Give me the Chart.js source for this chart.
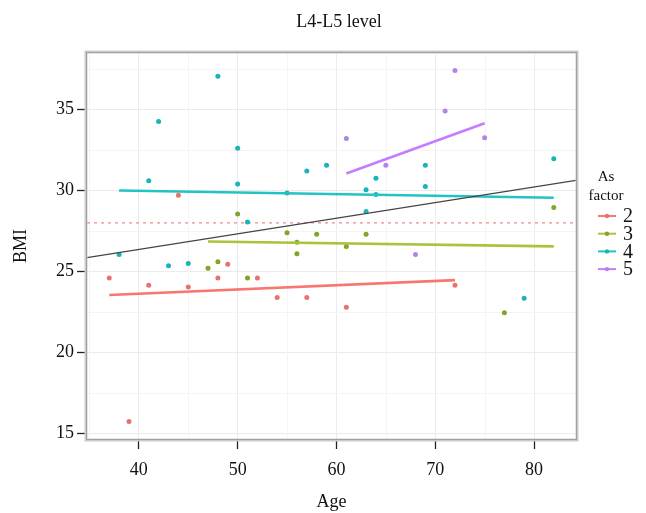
<!DOCTYPE html>
<html>
<head>
<meta charset="utf-8">
<script src="https://cdn.jsdelivr.net/npm/chart.js@4/dist/chart.umd.min.js"></script>
<style>
html,body{margin:0;padding:0;background:#fff;}
#wrap{width:646px;height:513px;}
</style>
</head>
<body>
<div id="wrap"><canvas id="c" width="646" height="513"></canvas></div>
<script>
// ---- data ----
const chartTitle = 'L4-L5 level';
const xTitle = 'Age';
const yTitle = 'BMI';
const legendTitle = ['As', 'factor'];
const groups = ['2', '3', '4', '5'];

const age2 = [37, 39, 41, 44, 45, 48, 49, 52, 54, 57, 61, 72];
const bmi2 = [24.6, 15.75, 24.15, 29.7, 24.05, 24.6, 25.45, 24.6, 23.4, 23.4, 22.8, 24.15];

const age3 = [47, 48, 50, 51, 55, 56, 56, 58, 61, 63, 77, 82];
const bmi3 = [25.2, 25.6, 28.55, 24.6, 27.4, 26.1, 26.8, 27.3, 26.55, 27.3, 22.45, 28.95];

const age4 = [38, 41, 42, 43, 45, 48, 50, 50, 51, 55, 57, 59, 63, 63, 64, 64, 69, 69, 79, 82];
const bmi4 = [26.05, 30.6, 34.25, 25.35, 25.5, 37.05, 32.6, 30.4, 28.05, 29.85, 31.2, 31.55, 30.05, 28.7, 30.75, 29.75, 31.55, 30.25, 23.35, 31.95];

const age5 = [61, 65, 68, 71, 72, 75];
const bmi5 = [33.2, 31.55, 26.05, 34.9, 37.4, 33.25];

// fitted lines per group (end points)
const fitAge2 = [37, 72], fitBmi2 = [23.55, 24.47];
const fitAge3 = [47, 82], fitBmi3 = [26.85, 26.55];
const fitAge4 = [38, 82], fitBmi4 = [30.0, 29.55];
const fitAge5 = [61, 75], fitBmi5 = [31.05, 34.15];
// overall line and reference level
const overallAge = [34.75, 84.25], overallBmi = [25.86, 30.62];
const refBmi = 28;

const xRange = [34.75, 84.25];
const yRange = [14.67, 38.48];
const xTicks = [40, 50, 60, 70, 80];
const yTicks = [15, 20, 25, 30, 35];

// ---- styling ----
const pointColors = ['#e8736b', '#7fa52a', '#19b4b6', '#b084e8'];
const lineColors  = ['#f8766d', '#a8c43a', '#22c3c6', '#c77cff'];
const FONT = "'Liberation Serif', 'Times New Roman', serif";

const zip = (xs, ys) => xs.map((x, i) => ({x: x, y: ys[i]}));
const ages = [age2, age3, age4, age5];
const bmis = [bmi2, bmi3, bmi4, bmi5];
const fitAges = [fitAge2, fitAge3, fitAge4, fitAge5];
const fitBmis = [fitBmi2, fitBmi3, fitBmi4, fitBmi5];

const datasets = [];
datasets.push({
  label: 'ref', data: xRange.map(x => ({x: x, y: refBmi})), showLine: true,
  borderColor: '#f08a8a', borderWidth: 1.3, borderDash: [3, 4], pointRadius: 0, order: 10
});
groups.forEach((g, i) => {
  datasets.push({
    label: g, data: zip(ages[i], bmis[i]), pointRadius: 2.5, pointBorderWidth: 0,
    backgroundColor: pointColors[i], borderColor: pointColors[i], order: 5
  });
});
groups.forEach((g, i) => {
  datasets.push({
    label: 'fit' + g, data: zip(fitAges[i], fitBmis[i]), showLine: true,
    borderColor: lineColors[i], borderWidth: 2.6, pointRadius: 0, order: 2
  });
});
datasets.push({
  label: 'overall', data: zip(overallAge, overallBmi), showLine: true,
  borderColor: '#444', borderWidth: 1.3, pointRadius: 0, order: 1
});

const minorGrid = {
  id: 'minorGrid',
  beforeDatasetsDraw(chart) {
    const {ctx, chartArea: a, scales: {x, y}} = chart;
    ctx.save();
    ctx.strokeStyle = '#f4f4f4';
    ctx.lineWidth = 1;
    for (let i = 0; i < xTicks.length + 1; i++) {
      const v = (i === 0 ? xTicks[0] - 5 : xTicks[i - 1] + 5);
      const px = Math.round(x.getPixelForValue(v)) + 0.5;
      if (px > a.left && px < a.right) { ctx.beginPath(); ctx.moveTo(px, a.top); ctx.lineTo(px, a.bottom); ctx.stroke(); }
    }
    for (let i = 0; i < yTicks.length + 1; i++) {
      const v = (i === 0 ? yTicks[0] - 2.5 : yTicks[i - 1] + 2.5);
      const py = Math.round(y.getPixelForValue(v)) + 0.5;
      if (py > a.top && py < a.bottom) { ctx.beginPath(); ctx.moveTo(a.left, py); ctx.lineTo(a.right, py); ctx.stroke(); }
    }
    ctx.restore();
  }
};

const frame = {
  id: 'frame',
  afterDraw(chart) {
    const {ctx, chartArea: a} = chart;
    ctx.save();
    ctx.strokeStyle = '#cccccc';
    ctx.lineWidth = 3;
    ctx.strokeRect(a.left - 1, a.top - 1, a.right - a.left + 2, a.bottom - a.top + 2);
    ctx.strokeStyle = '#a0a0a0';
    ctx.lineWidth = 1;
    ctx.strokeRect(a.left - 0.5, a.top - 0.5, a.right - a.left + 1, a.bottom - a.top + 1);
    // title
    ctx.fillStyle = '#111';
    ctx.font = '18px ' + FONT;
    ctx.textAlign = 'center';
    ctx.textBaseline = 'middle';
    ctx.fillText(chartTitle, 339, 22);
    // legend
    ctx.font = '15px ' + FONT;
    ctx.fillText(legendTitle[0], 606, 177);
    ctx.fillText(legendTitle[1], 606, 196);
    ctx.font = '20px ' + FONT;
    groups.forEach((g, i) => {
      const cy = 216 + i * 17.7;
      ctx.strokeStyle = lineColors[i];
      ctx.lineWidth = 2;
      ctx.beginPath(); ctx.moveTo(598, cy); ctx.lineTo(616, cy); ctx.stroke();
      ctx.fillStyle = pointColors[i];
      ctx.beginPath(); ctx.arc(607, cy, 2.2, 0, Math.PI * 2); ctx.fill();
      ctx.fillStyle = '#111';
      ctx.textAlign = 'left';
      ctx.fillText(g, 623, cy + 1);
    });
    ctx.restore();
  }
};

new Chart(document.getElementById('c'), {
  type: 'scatter',
  data: {datasets: datasets},
  options: {
    responsive: false,
    animation: false,
    layout: {padding: {top: 53, right: 70, left: 0, bottom: 0}},
    plugins: {legend: {display: false}, title: {display: false}, tooltip: {enabled: false}},
    scales: {
      x: {
        type: 'linear', min: xRange[0], max: xRange[1],
        afterFit(s) { s.height = 74; },
        afterBuildTicks(s) { s.ticks = xTicks.map(v => ({value: v})); },
        ticks: {font: {family: FONT, size: 18}, color: '#111', padding: 10, includeBounds: false},
        grid: {color: '#ebebeb', lineWidth: 1, tickColor: '#222', tickLength: 10, tickWidth: 1.3},
        border: {display: false},
        title: {display: true, text: xTitle, font: {family: FONT, size: 18}, color: '#111', padding: {top: 0, bottom: 0}}
      },
      y: {
        type: 'linear', min: yRange[0], max: yRange[1],
        afterFit(s) { s.width = 87; },
        afterBuildTicks(s) { s.ticks = yTicks.map(v => ({value: v})); },
        ticks: {font: {family: FONT, size: 18}, color: '#111', padding: 3, includeBounds: false},
        grid: {color: '#ebebeb', lineWidth: 1, tickColor: '#222', tickLength: 10, tickWidth: 1.3},
        border: {display: false},
        title: {display: true, text: yTitle, font: {family: FONT, size: 18}, color: '#111', padding: {top: 10, bottom: 0}}
      }
    }
  },
  plugins: [minorGrid, frame]
});
</script>
</body>
</html>
